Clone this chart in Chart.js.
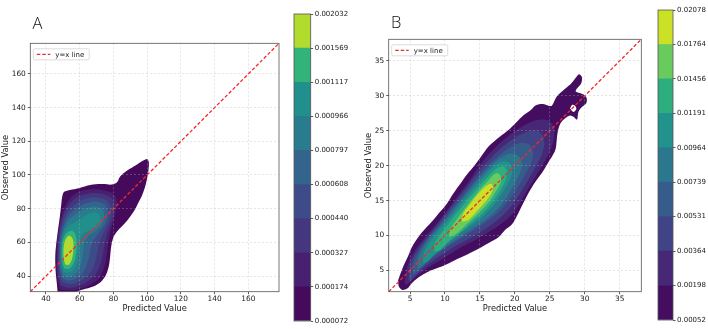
<!DOCTYPE html>
<html><head><meta charset="utf-8">
<script src="https://cdn.jsdelivr.net/npm/chart.js@4.4.0/dist/chart.umd.min.js"></script>
<style>
html,body{margin:0;padding:0;background:#fff;}
#wrap{position:relative;width:708px;height:329px;overflow:hidden;background:#fff;}
canvas{position:absolute;top:0;}
</style></head><body>
<div id="wrap">
<canvas id="cA" width="290" height="329" style="left:0px"></canvas>
<canvas id="cbA" width="70" height="329" style="left:285px"></canvas>
<canvas id="cB" width="305" height="329" style="left:345px"></canvas>
<canvas id="cbB" width="58" height="329" style="left:650px"></canvas>
</div>
<script>
// ---------- data ----------
const rangeA = [30.7, 178.2];
const rangeB = [1.95, 38.1];
const ticksA = [40, 60, 80, 100, 120, 140, 160];
const ticksB = [5, 10, 15, 20, 25, 30, 35];
const levelsA = [0.000072, 0.000174, 0.000327, 0.000440, 0.000608, 0.000797, 0.000966, 0.001117, 0.001569, 0.002032];
const levelsB = [0.00052, 0.00198, 0.00364, 0.00531, 0.00739, 0.00964, 0.01191, 0.01456, 0.01764, 0.02078];
const colorsA = ['#450a5c','#482071','#443780','#3d4c89','#33648d','#297b8e','#21908d','#32b37a','#b1dc2e'];
const colorsB = ['#450d60','#472877','#414387','#365c8c','#2b778e','#21928c','#2cae7e','#69cb5d','#cbe126'];

// KDE contour outlines, panel A (predicted, observed)
const a1 = [[47,29],[46.5,35],[45.8,42],[45.5,48],[45.6,54],[46.3,61],[47.2,68],[48.2,75],[49,82],[49.6,87],[50.5,89.8],[53,90.8],[58,91.8],[63,93.2],[68,94.3],[74,94.6],[79,94.3],[82,95.5],[83.8,98.8],[86,101],[90,103.8],[94,106.3],[97.5,108.5],[100,109.5],[101,107.5],[100.8,103],[100,98],[98.8,93],[97,88],[95,84],[92.5,79],[89,74],[85.5,70],[82,66.3],[79.8,62.5],[78.6,57],[78,51],[77.2,45.5],[75.5,40.5],[72.5,36.5],[68,33.8],[62,32],[57,30.5],[52,29]];
const a2 = [[48.4,32],[46.5,40],[46.3,50],[46.5,60],[47.7,68.5],[49.5,76.5],[52.2,83],[56,88],[61,90.5],[67.5,91.5],[74,91],[79,89.5],[81.5,86.5],[82,82],[80.8,76],[79.3,70],[77.8,64],[76.7,57.5],[75.8,51],[74.5,45],[72,39.5],[67.5,35.5],[61.5,32.8],[55,31.5]];
const a3 = [[48.8,34.5],[47.1,42],[47.0,54],[47.5,63],[48.8,71],[51.3,78.5],[55,84],[60,87.5],[66.5,89.2],[73,88.8],[78,87],[80.2,83.5],[80.2,77.5],[78.6,71.5],[76.5,65.5],[74.8,59],[73.6,52.5],[72,46],[69,40.5],[64,36.3],[58,33.8],[53,33]];
const a4 = [[49.3,36.5],[47.7,44],[47.6,54],[48.1,62.5],[49.4,69.5],[52,76.5],[56,81.5],[61,85],[66.5,86.7],[72,86.5],[76.5,84.5],[78.5,80.5],[78.2,75],[76.3,70],[73.8,65],[71.5,59.5],[70.2,53],[68.5,46.5],[65.5,41],[60.5,37],[55,35.2]];
const a5 = [[49.8,38.5],[48.2,45],[48.1,54],[48.6,62],[50,68.5],[52.5,74.5],[56.5,79],[61.5,82.3],[66.5,84],[71.5,84],[75.3,82],[76.6,78],[75.8,73],[73.5,68.5],[70.5,64.5],[67.5,60],[66,54],[64.5,47.5],[62,42],[58,38.5],[53.5,37.2]];
const a6 = [[50.2,40.5],[48.7,46],[48.6,54],[49.0,61],[50.4,67],[52.8,72.2],[56.5,75.8],[61,78.8],[65.5,80.8],[70,81.2],[73.5,79.5],[74.5,75.5],[73.2,70.8],[70,67.2],[66,64.5],[63,60.5],[62,54],[61,48],[59,43],[56,40],[52.8,39.5]];
const a7 = [[50.5,42.5],[49.2,47.5],[49.0,54],[49.4,60.5],[50.7,65.5],[53,69.3],[56.5,71.5],[60.5,73.8],[64.5,76.5],[68.5,77.7],[71.5,76.5],[72.2,73],[70.5,69.5],[67,67.5],[62.5,65.5],[60.3,62],[59.5,56.5],[59,50.5],[57.5,45.5],[55,42.5],[52.5,41.8]];
const a8 = [[50.8,44.6],[49.6,49],[49.4,54],[49.8,59.5],[51.2,64],[53.5,66.5],[56,66.8],[57.6,64.5],[58.2,60],[58,55],[57.3,50.5],[55.8,46.5],[53.5,44.2]];
const a9 = [[51.3,47],[50.5,51],[50.4,55.5],[51,60],[52.6,63.3],[54.6,63.8],[56.0,61.5],[56.4,57.5],[56,53],[55,49],[53.3,46.6]];

// KDE contour outlines, panel B
const b1 = [[3.3,3.6],[3.4,2.7],[3.9,2.2],[4.6,2.4],[5.2,3.1],[5.7,3.6],[6.7,4.3],[7.6,4.8],[9.1,5.4],[10.5,6.0],[11.9,6.7],[13.4,7.4],[14.8,8.1],[16.2,8.9],[17.7,9.8],[18.6,10.8],[19.6,11.6],[20.5,13.2],[21.4,15.0],[22.2,16.5],[23.1,17.9],[24.1,19.3],[25.0,20.8],[25.7,22.0],[25.9,22.7],[26.1,24.6],[26.5,26.0],[27.2,26.8],[27.9,27.2],[28.4,27.0],[28.9,26.6],[29.1,27.7],[29.6,28.4],[30.2,28.9],[30.3,29.6],[30.0,30.1],[29.3,30.4],[28.7,30.7],[29.5,31.8],[29.6,32.7],[29.2,33.1],[28.8,32.7],[28.1,31.8],[27.2,31.0],[26.0,29.9],[25.3,28.6],[24.8,28.6],[24.2,28.8],[23.5,28.8],[22.9,28.6],[22.2,27.9],[21.2,27.2],[20.3,26.3],[19.3,25.3],[17.8,24.1],[16.3,22.8],[15.1,21.2],[14.2,20.0],[13.2,18.8],[12.2,17.4],[11.2,16.0],[10.3,14.6],[9.3,13.4],[8.3,12.2],[7.2,11.0],[6.2,9.8],[5.3,8.4],[4.7,7.0],[4.0,5.5]];
const bHole = [[27.9,28.2],[28.2,28.7],[28.6,28.6],[28.8,28.1],[28.4,27.7]];
const b2 = [[4.2,3.2],[4.6,5.5],[5.3,7.2],[6.4,8.8],[7.6,10.3],[8.8,11.7],[10.0,13.2],[11.2,14.8],[12.4,16.4],[13.6,18.0],[14.8,19.8],[16.0,21.3],[17.4,22.8],[18.9,24.1],[20.4,25.2],[22.0,26.1],[23.6,26.6],[24.9,26.4],[25.6,25.4],[25.6,23.8],[25.0,22.0],[24.1,20.3],[23.0,18.5],[21.8,16.5],[20.7,14.6],[19.6,13.0],[18.2,11.8],[16.6,10.7],[15.0,9.7],[13.3,8.8],[11.6,7.9],[10.0,6.9],[8.4,5.9],[7.0,5.0],[5.6,3.9],[4.6,3.0]];
const b3 = [[4.8,3.6],[5.0,5.6],[5.7,7.3],[6.8,8.9],[8.0,10.4],[9.2,11.9],[10.4,13.4],[11.6,15.0],[12.8,16.5],[14.0,18.1],[15.2,19.6],[16.5,21.0],[17.9,22.4],[19.4,23.6],[20.9,24.5],[22.3,25.0],[23.4,24.9],[24.1,24.1],[24.2,22.8],[23.7,21.2],[22.8,19.5],[21.7,17.6],[20.6,15.8],[19.5,14.2],[18.2,12.8],[16.7,11.6],[15.1,10.5],[13.4,9.5],[11.7,8.6],[10.1,7.6],[8.6,6.6],[7.2,5.6],[6.0,4.5],[5.2,3.6]];
const b4 = [[5.4,4.3],[5.5,6.0],[6.2,7.6],[7.2,9.1],[8.4,10.6],[9.6,12.0],[10.8,13.5],[12.0,15.0],[13.2,16.5],[14.4,18.0],[15.7,19.5],[17.0,20.8],[18.4,22.0],[19.8,22.9],[21.1,23.3],[22.1,23.0],[22.6,22.0],[22.5,20.8],[21.8,19.3],[20.9,17.7],[19.9,16.1],[18.8,14.6],[17.6,13.3],[16.2,12.2],[14.7,11.1],[13.1,10.1],[11.5,9.1],[10.0,8.1],[8.6,7.1],[7.3,6.1],[6.2,5.0]];
const b5 = [[6.1,5.1],[6.1,6.6],[6.8,8.1],[7.8,9.6],[9.0,11.0],[10.2,12.4],[11.4,13.9],[12.6,15.4],[13.8,16.9],[15.0,18.3],[16.3,19.7],[17.6,20.9],[18.9,21.6],[20.0,21.7],[20.8,21.0],[21.0,19.9],[20.6,18.6],[19.8,17.1],[18.9,15.6],[17.9,14.2],[16.7,13.0],[15.3,11.9],[13.8,10.9],[12.3,9.9],[10.8,8.9],[9.4,7.9],[8.1,6.9],[7.0,5.8]];
const b6 = [[6.9,6.0],[6.9,7.3],[7.6,8.7],[8.6,10.1],[9.8,11.5],[11.0,12.9],[12.2,14.4],[13.4,15.9],[14.6,17.3],[15.8,18.7],[17.0,19.9],[18.2,20.6],[19.1,20.5],[19.6,19.7],[19.5,18.5],[18.8,17.0],[17.8,15.5],[16.7,14.0],[15.5,12.8],[14.1,11.7],[12.6,10.6],[11.1,9.5],[9.7,8.4],[8.5,7.3],[7.6,6.3]];
const b7 = [[8.5,7.7],[8.5,8.8],[9.3,10.1],[10.4,11.6],[11.6,13.1],[12.8,14.6],[14.0,16.0],[15.2,17.4],[16.4,18.7],[17.5,19.7],[18.4,19.9],[18.9,19.2],[18.7,18.0],[18.0,16.6],[17.0,15.1],[15.9,13.7],[14.6,12.5],[13.2,11.3],[11.8,10.1],[10.4,9.0],[9.3,7.9]];
const b8 = [[10.6,9.8],[10.7,10.8],[11.6,12.2],[12.7,13.7],[13.9,15.2],[15.1,16.7],[16.3,18.0],[17.3,18.9],[17.9,18.7],[18.0,17.7],[17.4,16.5],[16.5,15.1],[15.4,13.8],[14.2,12.6],[12.9,11.4],[11.6,10.2]];
const b9 = [[12.4,12.0],[12.6,13.1],[13.6,14.5],[14.7,15.9],[15.8,17.0],[16.6,17.4],[16.9,16.9],[16.5,15.8],[15.5,14.5],[14.4,13.3],[13.3,12.2]];

const contoursA = [a1, a2, a3, a4, a5, a6, a7, a8, a9];
const contoursB = [b1, b2, b3, b4, b5, b6, b7, b8, b9];

// ---------- helpers ----------
Chart.defaults.font.family = '"DejaVu Sans", sans-serif';
Chart.defaults.color = '#1a1a1a';
const TXT = '#1a1a1a';

const framePlugin = {
  id: 'frame',
  afterDraw(chart) {
    const {ctx, chartArea: a} = chart;
    ctx.save();
    ctx.strokeStyle = '#555';
    ctx.lineWidth = 0.8;
    ctx.strokeRect(a.left, a.top, a.right - a.left, a.bottom - a.top);
    ctx.restore();
  }
};

const legendPlugin = {
  id: 'inLegend',
  afterDraw(chart) {
    const {ctx, chartArea: a} = chart;
    const ds = chart.data.datasets[0];
    ctx.save();
    ctx.font = '7px "DejaVu Sans"';
    const tw = ctx.measureText(ds.label).width;
    const x = a.left + 3, y = a.top + 5.5, w = tw + 27, h = 11, r = 1.5;
    ctx.beginPath();
    ctx.moveTo(x + r, y); ctx.lineTo(x + w - r, y); ctx.quadraticCurveTo(x + w, y, x + w, y + r);
    ctx.lineTo(x + w, y + h - r); ctx.quadraticCurveTo(x + w, y + h, x + w - r, y + h);
    ctx.lineTo(x + r, y + h); ctx.quadraticCurveTo(x, y + h, x, y + h - r);
    ctx.lineTo(x, y + r); ctx.quadraticCurveTo(x, y, x + r, y);
    ctx.closePath();
    ctx.fillStyle = 'rgba(255,255,255,0.85)'; ctx.fill();
    ctx.strokeStyle = '#d4d4d4'; ctx.lineWidth = 0.8; ctx.stroke();
    ctx.beginPath();
    ctx.setLineDash(ds.borderDash); ctx.strokeStyle = ds.borderColor; ctx.lineWidth = ds.borderWidth;
    ctx.moveTo(x + 3.5, y + h / 2); ctx.lineTo(x + 17, y + h / 2); ctx.stroke();
    ctx.setLineDash([]);
    ctx.fillStyle = TXT; ctx.textBaseline = 'middle'; ctx.textAlign = 'left';
    ctx.fillText(ds.label, x + 22, y + h / 2 + 0.5);
    ctx.restore();
  }
};

const panelPlugin = {
  id: 'panel',
  afterDraw(chart, args, opts) {
    const ctx = chart.ctx;
    ctx.save();
    ctx.font = '300 16.5px "Open Sans", "DejaVu Sans", sans-serif';
    ctx.fillStyle = '#111';
    ctx.textBaseline = 'alphabetic';
    ctx.fillText(opts.text, opts.x, opts.y);
    ctx.restore();
  }
};

function mainChart(id, cfg) {
  const datasets = [{
    label: 'y=x line',
    data: [{x: cfg.range[0], y: cfg.range[0]}, {x: cfg.range[1], y: cfg.range[1]}],
    showLine: true, borderColor: '#ee2b2b', borderWidth: 1.3, borderDash: [3.5, 2],
    pointRadius: 0, fill: false, order: 0
  }];
  cfg.contours.forEach((poly, i) => {
    datasets.push({
      label: 'level ' + (i + 1),
      data: poly.concat([poly[0]]).map(p => ({x: p[0], y: p[1]})),
      showLine: true, fill: 'shape', backgroundColor: cfg.colors[i],
      borderWidth: 0, borderColor: 'rgba(0,0,0,0)', pointRadius: 0,
      tension: 0.3, order: 20 - 2 * i
    });
  });
  if (cfg.hole) {
    datasets.push({
      label: 'hole', data: cfg.hole.concat([cfg.hole[0]]).map(p => ({x: p[0], y: p[1]})),
      showLine: true, fill: 'shape', backgroundColor: '#ffffff', borderWidth: 0,
      pointRadius: 0, tension: 0.4, order: 19
    });
  }
  const gridOpts = {color: 'rgba(176,176,176,0.55)', lineWidth: 0.6, z: 1,
    tickColor: '#333', tickLength: 2.5, tickWidth: 0.8};
  return new Chart(document.getElementById(id), {
    type: 'scatter',
    data: {datasets},
    options: {
      responsive: false, animation: false, devicePixelRatio: 1,
      layout: {padding: {left: 0, top: cfg.top, right: cfg.right, bottom: 0}},
      plugins: {legend: {display: false}, tooltip: {enabled: false},
        panel: {text: cfg.letter, x: cfg.letterX, y: cfg.letterY}},
      scales: {
        x: {
          type: 'linear', min: cfg.range[0], max: cfg.range[1],
          afterBuildTicks: s => { s.ticks = cfg.ticks.map(v => ({value: v})); },
          afterFit: s => { s.height = 37.3; },
          grid: gridOpts, border: {display: false, dash: [2, 2]},
          ticks: {font: {size: 7.4}, color: TXT, padding: 0, maxRotation: 0, autoSkip: false},
          title: {display: true, text: 'Predicted Value', font: {size: 8.3}, color: TXT,
            padding: {top: 0, bottom: 14.7}}
        },
        y: {
          type: 'linear', min: cfg.range[0], max: cfg.range[1],
          afterBuildTicks: s => { s.ticks = cfg.ticks.map(v => ({value: v})); },
          afterFit: s => { s.width = cfg.yw; },
          grid: gridOpts, border: {display: false, dash: [2, 2]},
          ticks: {font: {size: 7.4}, color: TXT, padding: 2, autoSkip: false},
          title: {display: true, text: 'Observed Value', font: {size: 8.3}, color: TXT,
            padding: {top: cfg.ytitlePad, bottom: 0}}
        }
      }
    },
    plugins: [framePlugin, legendPlugin, panelPlugin]
  });
}

function colorbar(id, levels, colors, cfg) {
  return new Chart(document.getElementById(id), {
    type: 'bar',
    data: {labels: [''], datasets: colors.map((c, i) => ({
      label: 'band ' + i, data: [1], backgroundColor: c, borderWidth: 0,
      barPercentage: 1, categoryPercentage: 1}))},
    options: {
      responsive: false, animation: false, devicePixelRatio: 1,
      layout: {padding: {left: cfg.left, top: cfg.top, bottom: cfg.bottom, right: 0}},
      plugins: {legend: {display: false}, tooltip: {enabled: false}},
      scales: {
        x: {display: false, stacked: true},
        y: {
          stacked: true, position: 'right', min: 0, max: levels.length - 1,
          afterBuildTicks: s => { s.ticks = levels.map((v, i) => ({value: i})); },
          afterFit: s => { s.width = cfg.w; },
          ticks: {font: {size: 7}, color: TXT, padding: 1.5, autoSkip: false,
            callback: v => levels[v].toFixed(cfg.digits)},
          grid: {drawOnChartArea: false, tickLength: 2.5, tickColor: '#333', tickWidth: 0.8},
          border: {display: false}
        }
      }
    },
    plugins: [framePlugin]
  });
}

mainChart('cA', {range: rangeA, ticks: ticksA, contours: contoursA, colors: colorsA,
  top: 43.3, right: 11, yw: 30.3, ytitlePad: 0.6, letter: 'A', letterX: 32.5, letterY: 28.5});
mainChart('cB', {range: rangeB, ticks: ticksB, contours: contoursB, colors: colorsB, hole: bHole,
  top: 39.3, right: 8.7, yw: 43.7, ytitlePad: 18.4, letter: 'B', letterX: 46, letterY: 27.5});
colorbar('cbA', levelsA, colorsA, {left: 9, top: 14, bottom: 8, w: 44.3, digits: 6});
colorbar('cbB', levelsB, colorsB, {left: 8, top: 10, bottom: 9, w: 35, digits: 5});
</script>
</body></html>
